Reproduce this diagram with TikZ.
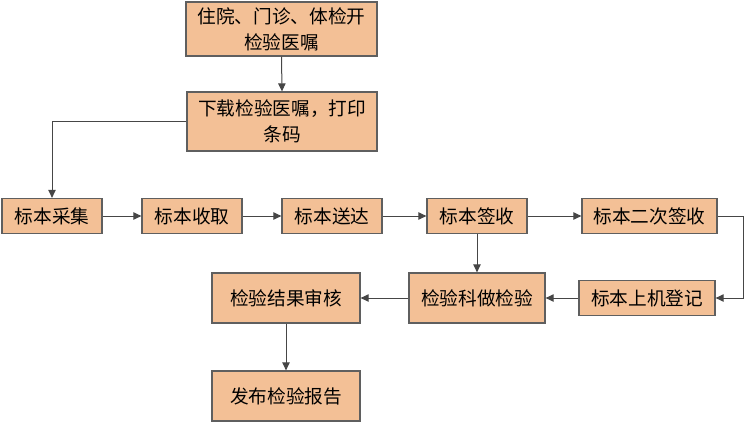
\documentclass[tikz,border=0pt]{standalone}
\usepackage{fontspec}
\newfontfamily\cjk{Noto Sans CJK SC}
\usetikzlibrary{arrows.meta}
\definecolor{boxfill}{RGB}{243,192,150}
\definecolor{boxline}{RGB}{95,95,95}
\definecolor{arrowc}{RGB}{70,70,70}
\begin{document}
\begin{tikzpicture}[x=0.75pt,y=-0.75pt,
  box/.style={draw=boxline, fill=boxfill, line width=0.9pt, inner sep=0pt,
    font=\cjk\fontsize{14}{19.5}\selectfont, align=center},
  conn/.style={draw=arrowc, line width=0.75pt, -{Triangle[length=6pt,width=5.5pt]}}]
\useasboundingbox (0,0) rectangle (756,425);
\node[box, minimum width=191*0.75pt, minimum height=54*0.75pt] (n1) at (281.5,29) {住院、门诊、体检开\\检验医嘱};
\node[box, minimum width=190*0.75pt, minimum height=59*0.75pt] (n2) at (282,121.5) {下载检验医嘱，打印\\条码};
\node[box, minimum width=100*0.75pt, minimum height=35*0.75pt] (a) at (52,216) {标本采集};
\node[box, minimum width=100*0.75pt, minimum height=35*0.75pt] (b) at (192,216) {标本收取};
\node[box, minimum width=100*0.75pt, minimum height=35*0.75pt] (c) at (332,216) {标本送达};
\node[box, minimum width=100*0.75pt, minimum height=35*0.75pt] (d) at (477,216) {标本签收};
\node[box, minimum width=135*0.75pt, minimum height=35*0.75pt] (e) at (649.5,216) {标本二次签收};
\node[box, minimum width=136*0.75pt, minimum height=35*0.75pt] (f) at (647,298) {标本上机登记};
\node[box, minimum width=136*0.75pt, minimum height=50*0.75pt] (g) at (477,298) {检验科做检验};
\node[box, minimum width=148*0.75pt, minimum height=50*0.75pt] (h) at (286,298) {检验结果审核};
\node[box, minimum width=148*0.75pt, minimum height=50*0.75pt] (i) at (286,396) {发布检验报告};
\draw[conn] (n1.south) -- (n2.north);
\draw[conn] (n2.west) -| (a.north);
\draw[conn] (a.east) -- (b.west);
\draw[conn] (b.east) -- (c.west);
\draw[conn] (c.east) -- (d.west);
\draw[conn] (d.east) -- (e.west);
\draw[conn] (e.east) -- ++(26,0) |- (f.east);
\draw[conn] (d.south) -- (g.north);
\draw[conn] (f.west) -- (g.east);
\draw[conn] (g.west) -- (h.east);
\draw[conn] (h.south) -- (i.north);
\end{tikzpicture}
\end{document}
